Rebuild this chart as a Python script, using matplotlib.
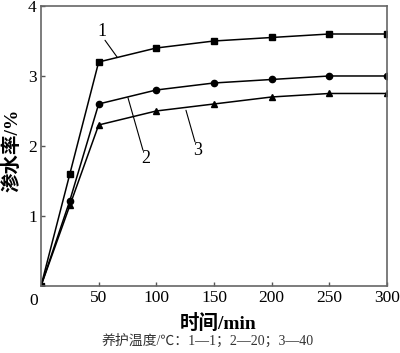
import matplotlib
matplotlib.use("Agg")
import matplotlib.pyplot as plt

x = [0, 25, 50, 100, 150, 200, 250, 300]
s1 = [0, 1.6, 3.2, 3.4, 3.5, 3.55, 3.6, 3.6]
s2 = [0, 1.22, 2.6, 2.8, 2.9, 2.95, 3.0, 3.0]
s3 = [0, 1.15, 2.3, 2.5, 2.6, 2.7, 2.75, 2.75]
xticks = [0, 50, 100, 150, 200, 250, 300]
xticklabels = ['', '50', '100', '150', '200', '250', '300']
yticks = [1, 2, 3, 4]

serif = ['Liberation Serif', 'Noto Sans CJK SC']
plt.rcParams['font.family'] = serif

fig = plt.figure(figsize=(4.0, 3.53), dpi=100)
ax = fig.add_axes([0.1025, 0.19, 0.865, 0.793])

ax.plot(x, s1, color='black', lw=1.1, marker='s', ms=4.5)
ax.plot(x, s2, color='black', lw=1.1, marker='o', ms=4.5)
ax.plot(x, s3, color='black', lw=1.1, marker='^', ms=4.5)

ax.set_xlim(0, 300)
ax.set_ylim(0, 4)
ax.set_xticks(xticks)
ax.set_xticklabels(xticklabels)
ax.set_yticks(yticks)
ax.tick_params(direction='in', length=3, width=1, colors='#555555', labelcolor='black', labelsize=12.5, pad=3)
for sp in ax.spines.values():
    sp.set_color('#666666')
    sp.set_linewidth(1.2)

ax.text(-3, -0.1, '0', ha='right', va='top', fontsize=12.5)

# annotations
line = dict(arrowstyle='-', color='black', lw=0.8, shrinkA=0, shrinkB=0)
ax.annotate('', xy=(66, 3.27), xytext=(55.5, 3.51), arrowprops=line)
ax.text(53, 3.63, '1', ha='center', va='center', fontsize=13)
ax.annotate('', xy=(75.4, 2.69), xytext=(88.4, 1.94), arrowprops=line)
ax.text(91, 1.82, '2', ha='center', va='center', fontsize=13)
ax.annotate('', xy=(125.7, 2.51), xytext=(133.5, 2.06), arrowprops=line)
ax.text(135.5, 1.93, '3', ha='center', va='center', fontsize=13)

fig.text(0.545, 0.085, '时间/min', ha='center', va='center', fontsize=14, fontweight='bold')
fig.text(0.52, 0.035, '养护温度/℃：1—1；2—20；3—40', ha='center', va='center', fontsize=10, color='#333333')
fig.text(0.03, 0.575, '渗水率/%', ha='center', va='center', rotation=90, fontsize=14, fontweight='bold')

fig.savefig('out.png', dpi=100)
